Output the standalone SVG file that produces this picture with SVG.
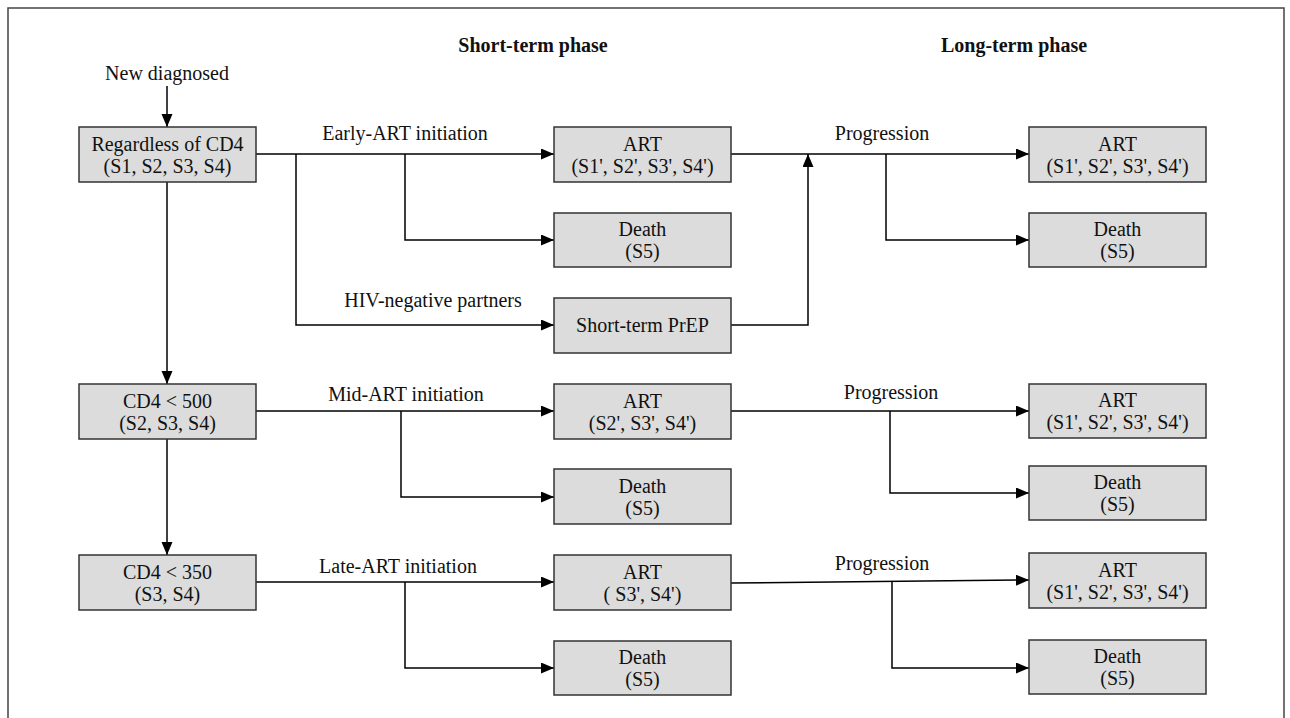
<svg xmlns="http://www.w3.org/2000/svg" width="1290" height="718" viewBox="0 0 1290 718">
<defs>
<marker id="arr" markerUnits="userSpaceOnUse" markerWidth="14" markerHeight="12" refX="13" refY="5.5" orient="auto">
<path d="M0,0 L13,5.5 L0,11 z" fill="#000"/>
</marker>
<style>
.box{fill:#dcdcdc;stroke:#333;stroke-width:1.5}
.t{font-family:"Liberation Serif","Times New Roman",serif;font-size:20px;fill:#111;text-anchor:middle}
.h{font-family:"Liberation Serif","Times New Roman",serif;font-size:20px;font-weight:bold;fill:#111;text-anchor:middle}
.c{fill:none;stroke:#000;stroke-width:1.5}
.a{marker-end:url(#arr)}
</style>
</defs>
<rect width="1290" height="718" fill="#fff"/>
<path d="M8,718 V8 H1284 V718" fill="none" stroke="#444" stroke-width="1.5"/>

<text class="h" x="533" y="52">Short-term phase</text>
<text class="h" x="1014" y="52">Long-term phase</text>

<g id="connectors">
<path class="c a" d="M167,86 V127"/>
<path class="c a" d="M256,154 H554"/>
<path class="c a" d="M405,154 V240 H554"/>
<path class="c a" d="M296,154 V325 H554"/>
<path class="c a" d="M731,325 H808 V154"/>
<path class="c a" d="M731,154 H1029"/>
<path class="c a" d="M886,154 V240 H1029"/>
<path class="c a" d="M167,182 V384"/>
<path class="c a" d="M256,411 H554"/>
<path class="c a" d="M401,411 V497 H554"/>
<path class="c a" d="M731,411 H1029"/>
<path class="c a" d="M890,411 V493 H1029"/>
<path class="c a" d="M167,439 V555"/>
<path class="c a" d="M256,582 H554"/>
<path class="c a" d="M405,582 V668 H554"/>
<path class="c a" d="M731,583 L1029,580"/>
<path class="c a" d="M892,581 V668 H1029"/>
<text class="t" x="167" y="80">New diagnosed</text>
<text class="t" x="405" y="140">Early-ART initiation</text>
<text class="t" x="882" y="140">Progression</text>
<text class="t" x="433" y="307">HIV-negative partners</text>
<text class="t" x="406" y="401">Mid-ART initiation</text>
<text class="t" x="891" y="399">Progression</text>
<text class="t" x="398" y="573">Late-ART initiation</text>
<text class="t" x="882" y="570">Progression</text>
</g>

<g id="n_regardless"><rect class="box" x="79" y="127" width="177" height="55"/><text class="t" x="167.5" y="151">Regardless of CD4</text><text class="t" x="167.5" y="173">(S1, S2, S3, S4)</text></g>
<g id="n_art1"><rect class="box" x="554" y="127" width="177" height="55"/><text class="t" x="642.5" y="151">ART</text><text class="t" x="642.5" y="173">(S1', S2', S3', S4')</text></g>
<g id="n_death1"><rect class="box" x="554" y="213" width="177" height="54"/><text class="t" x="642.5" y="236">Death</text><text class="t" x="642.5" y="258">(S5)</text></g>
<g id="n_prep"><rect class="box" x="554" y="298" width="177" height="55"/><text class="t" x="642.5" y="332">Short-term PrEP</text></g>
<g id="n_lart1"><rect class="box" x="1029" y="127" width="177" height="55"/><text class="t" x="1117.5" y="151">ART</text><text class="t" x="1117.5" y="173">(S1', S2', S3', S4')</text></g>
<g id="n_ldeath1"><rect class="box" x="1029" y="213" width="177" height="54"/><text class="t" x="1117.5" y="236">Death</text><text class="t" x="1117.5" y="258">(S5)</text></g>

<g id="n_cd500"><rect class="box" x="79" y="384" width="177" height="55"/><text class="t" x="167.5" y="408">CD4 &lt; 500</text><text class="t" x="167.5" y="430">(S2, S3, S4)</text></g>
<g id="n_art2"><rect class="box" x="554" y="384" width="177" height="55"/><text class="t" x="642.5" y="408">ART</text><text class="t" x="642.5" y="430">(S2', S3', S4')</text></g>
<g id="n_death2"><rect class="box" x="554" y="469" width="177" height="55"/><text class="t" x="642.5" y="493">Death</text><text class="t" x="642.5" y="515">(S5)</text></g>
<g id="n_lart2"><rect class="box" x="1029" y="384" width="177" height="54"/><text class="t" x="1117.5" y="407">ART</text><text class="t" x="1117.5" y="429">(S1', S2', S3', S4')</text></g>
<g id="n_ldeath2"><rect class="box" x="1029" y="466" width="177" height="54"/><text class="t" x="1117.5" y="489">Death</text><text class="t" x="1117.5" y="511">(S5)</text></g>

<g id="n_cd350"><rect class="box" x="79" y="555" width="177" height="55"/><text class="t" x="167.5" y="579">CD4 &lt; 350</text><text class="t" x="167.5" y="601">(S3, S4)</text></g>
<g id="n_art3"><rect class="box" x="554" y="555" width="177" height="55"/><text class="t" x="642.5" y="579">ART</text><text class="t" x="642.5" y="601">( S3', S4')</text></g>
<g id="n_death3"><rect class="box" x="554" y="641" width="177" height="54"/><text class="t" x="642.5" y="664">Death</text><text class="t" x="642.5" y="686">(S5)</text></g>
<g id="n_lart3"><rect class="box" x="1029" y="553" width="177" height="55"/><text class="t" x="1117.5" y="577">ART</text><text class="t" x="1117.5" y="599">(S1', S2', S3', S4')</text></g>
<g id="n_ldeath3"><rect class="box" x="1029" y="640" width="177" height="54"/><text class="t" x="1117.5" y="663">Death</text><text class="t" x="1117.5" y="685">(S5)</text></g>
</svg>
